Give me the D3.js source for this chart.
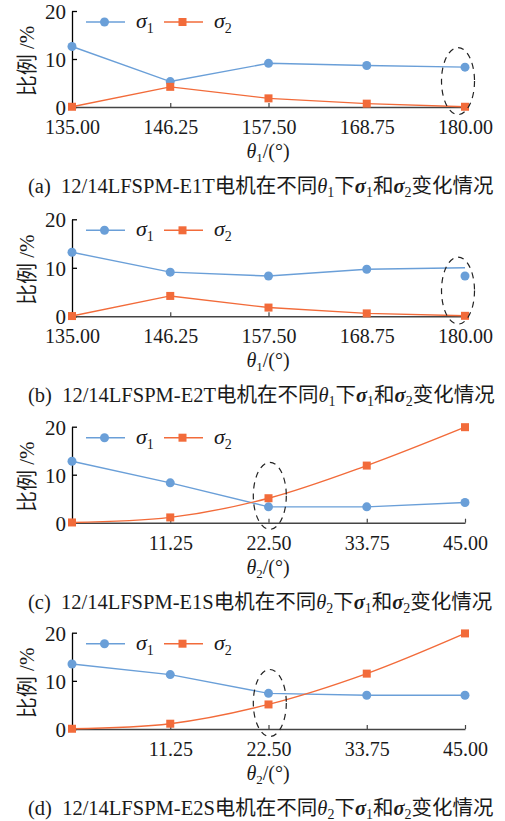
<!DOCTYPE html>
<html>
<head>
<meta charset="utf-8">
<script src="https://cdn.jsdelivr.net/npm/d3@7"></script>
<style>
  body { margin: 0; background: #fff; }
</style>
</head>
<body>
<svg></svg>
<script>
// angles for each panel
let theta1 = [135, 146.25, 157.5, 168.75, 180]
let theta2 = [0, 11.25, 22.5, 33.75, 45]
let theta1Labels = ['135.00', '146.25', '157.50', '168.75', '180.00']
let theta2Labels = ['', '11.25', '22.50', '33.75', '45.00']
let yTicks = [0, 10, 20]

// sigma1 / sigma2 in %
let aSigma1 = [12.6, 5.3, 9.1, 8.65, 8.3]
let aSigma2 = [0.05, 4.2, 1.8, 0.7, 0.05]
// panel b: the line ends at 10.0 but the last marker sits at 8.3
let bSigma1Line = [13.2, 9.1, 8.3, 9.7, 10.0]
let bSigma1Dots = [13.2, 9.1, 8.3, 9.7, 8.3]
let bSigma2 = [0.05, 4.2, 1.8, 0.6, 0.1]
let cSigma1 = [12.8, 8.3, 3.3, 3.3, 4.2]
let cSigma2 = [0.05, 1.1, 5.1, 11.9, 19.9]
let dSigma1 = [13.5, 11.3, 7.4, 7.0, 7.0]
let dSigma2 = [0.05, 1.1, 5.1, 11.5, 19.85]

// dashed ellipse centres [x, y] in data units
let ringA = [179.2, 5.4]
let ringB = [179.2, 5.3]
let ringC = [22.65, 5.6]
let ringD = [22.65, 5.4]

let captions = [
  ['(a)', 'E1T', '1'],
  ['(b)', 'E2T', '1'],
  ['(c)', 'E1S', '2'],
  ['(d)', 'E2S', '2']
]

let blue = '#6a9fd8'
let orange = '#f26b3a'
let serif = '"Liberation Serif", "Noto Sans CJK SC", serif'

let width = 505
let height = 821
let left = 72
let right = 465

let panels = [
  { top: 11, bottom: 107, x: theta1, labels: theta1Labels, s1: aSigma1, s1dots: aSigma1, s2: aSigma2, smooth: false, ring: ringA, cap: captions[0] },
  { top: 219.3, bottom: 316.3, x: theta1, labels: theta1Labels, s1: bSigma1Line, s1dots: bSigma1Dots, s2: bSigma2, smooth: false, ring: ringB, cap: captions[1] },
  { top: 426.7, bottom: 522.7, x: theta2, labels: theta2Labels, s1: cSigma1, s1dots: cSigma1, s2: cSigma2, smooth: true, ring: ringC, cap: captions[2] },
  { top: 632.7, bottom: 729, x: theta2, labels: theta2Labels, s1: dSigma1, s1dots: dSigma1, s2: dSigma2, smooth: true, ring: ringD, cap: captions[3] }
]

let svg = d3.select('svg').attr('width', width).attr('height', height)

// italic symbol + lowered index, then the following text back on the baseline
let sub = (sel, main, idx, opts, after) => {
  sel.append('tspan').text(main)
     .style('font-style', 'italic')
     .style('font-weight', opts.bold ? 'bold' : 'normal')
  sel.append('tspan').text(idx)
     .style('font-size', opts.subSize + 'px')
     .attr('dy', opts.dy)
  sel.append('tspan').attr('dy', -opts.dy).text(after)
}

let drawPanel = (p) => {
  let g = svg.append('g')
  let xScale = d3.scaleLinear().domain([p.x[0], p.x[4]]).range([left, right])
  let yScale = d3.scaleLinear().domain([0, 20]).range([p.bottom, p.top])

  // y axis
  let yAxis = d3.axisLeft(yScale).tickValues(yTicks).tickSizeInner(-5).tickSizeOuter(0).tickPadding(6)
  let ya = g.append('g').attr('transform', 'translate(' + left + ',0)').call(yAxis)
  ya.select('.domain').attr('stroke', '#000').attr('stroke-width', 1.3)
  ya.selectAll('.tick line').attr('stroke', '#000').attr('stroke-width', 1.3)
  ya.selectAll('text').style('font-size', '21px').style('font-family', serif)
    .attr('fill', '#1a1a1a').attr('dy', '0.35em')

  // x axis
  let xAxis = d3.axisBottom(xScale).tickValues(p.x).tickFormat((d, i) => p.labels[i])
                .tickSizeInner(-4).tickSizeOuter(0).tickPadding(13)
  let xa = g.append('g').attr('transform', 'translate(0,' + p.bottom + ')').call(xAxis)
  xa.select('.domain').attr('stroke', '#444').attr('stroke-width', 1.5)
  xa.selectAll('.tick line').attr('stroke', '#444').attr('stroke-width', 1.2)
  xa.selectAll('text').style('font-size', '20px').style('font-family', serif).attr('fill', '#1a1a1a')

  let straight = d3.line().x((d, i) => xScale(p.x[i])).y(d => yScale(d))
  let curved = d3.line().x((d, i) => xScale(p.x[i])).y(d => yScale(d)).curve(d3.curveCatmullRom.alpha(0.5))

  g.append('path').datum(p.s1).attr('d', straight)
   .attr('fill', 'none').attr('stroke', blue).attr('stroke-width', 1.4)
  g.append('path').datum(p.s2).attr('d', p.smooth ? curved : straight)
   .attr('fill', 'none').attr('stroke', orange).attr('stroke-width', 1.4)

  g.selectAll('.dot1').data(p.s1dots).enter().append('circle')
   .attr('cx', (d, i) => xScale(p.x[i])).attr('cy', d => yScale(d))
   .attr('r', 4.5).attr('fill', blue)
  g.selectAll('.dot2').data(p.s2).enter().append('rect')
   .attr('x', (d, i) => xScale(p.x[i]) - 4).attr('y', d => yScale(d) - 4)
   .attr('width', 8).attr('height', 8).attr('fill', orange)

  // dashed ellipse
  g.append('ellipse')
   .attr('cx', xScale(p.ring[0])).attr('cy', yScale(p.ring[1]))
   .attr('rx', 16.5).attr('ry', 33.5)
   .attr('fill', 'none').attr('stroke', '#222').attr('stroke-width', 1.2)
   .attr('stroke-dasharray', '6,5')

  // legend
  let ly = p.top + 11
  let items = [[blue, 'circle', 86, '1'], [orange, 'rect', 164, '2']]
  items.forEach(it => {
    g.append('line').attr('x1', it[2]).attr('x2', it[2] + 39).attr('y1', ly).attr('y2', ly)
     .attr('stroke', it[0]).attr('stroke-width', 1.4)
    if (it[1] == 'circle') {
      g.append('circle').attr('cx', it[2] + 18.5).attr('cy', ly).attr('r', 4.5).attr('fill', it[0])
    } else {
      g.append('rect').attr('x', it[2] + 14.5).attr('y', ly - 4).attr('width', 8).attr('height', 8).attr('fill', it[0])
    }
    let t = g.append('text').attr('x', it[2] + 50).attr('y', ly + 6)
             .style('font-size', '22px').style('font-family', serif).attr('fill', '#1a1a1a')
    sub(t, 'σ', it[3], { subSize: 14, dy: 5 }, '')
  })

  // y title
  g.append('text')
   .attr('transform', 'translate(34,' + ((p.top + p.bottom) / 2 + 2) + ') rotate(-90)')
   .attr('text-anchor', 'middle').style('font-size', '21px').style('font-family', serif)
   .attr('fill', '#1a1a1a')
   .text('比例 /%')

  // x title
  let xt = g.append('text').attr('x', 268).attr('y', p.bottom + 51)
            .attr('text-anchor', 'middle').style('font-size', '20px').style('font-family', serif)
            .attr('fill', '#1a1a1a')
  sub(xt, 'θ', p.cap[2], { subSize: 13, dy: 4 }, '/(°)')

  // caption
  let c = g.append('text').attr('x', 28).attr('y', p.bottom + 86)
           .style('font-size', '20.5px').style('font-family', serif).attr('fill', '#1a1a1a')
  c.append('tspan').text(p.cap[0] + '\u00a0\u00a012/14LFSPM-' + p.cap[1] + '电机在不同')
  sub(c, 'θ', p.cap[2], { subSize: 14, dy: 4 }, '下')
  sub(c, 'σ', '1', { bold: true, subSize: 14, dy: 4 }, '和')
  sub(c, 'σ', '2', { bold: true, subSize: 14, dy: 4 }, '变化情况')
}

panels.forEach(drawPanel)
</script>
</body>
</html>
